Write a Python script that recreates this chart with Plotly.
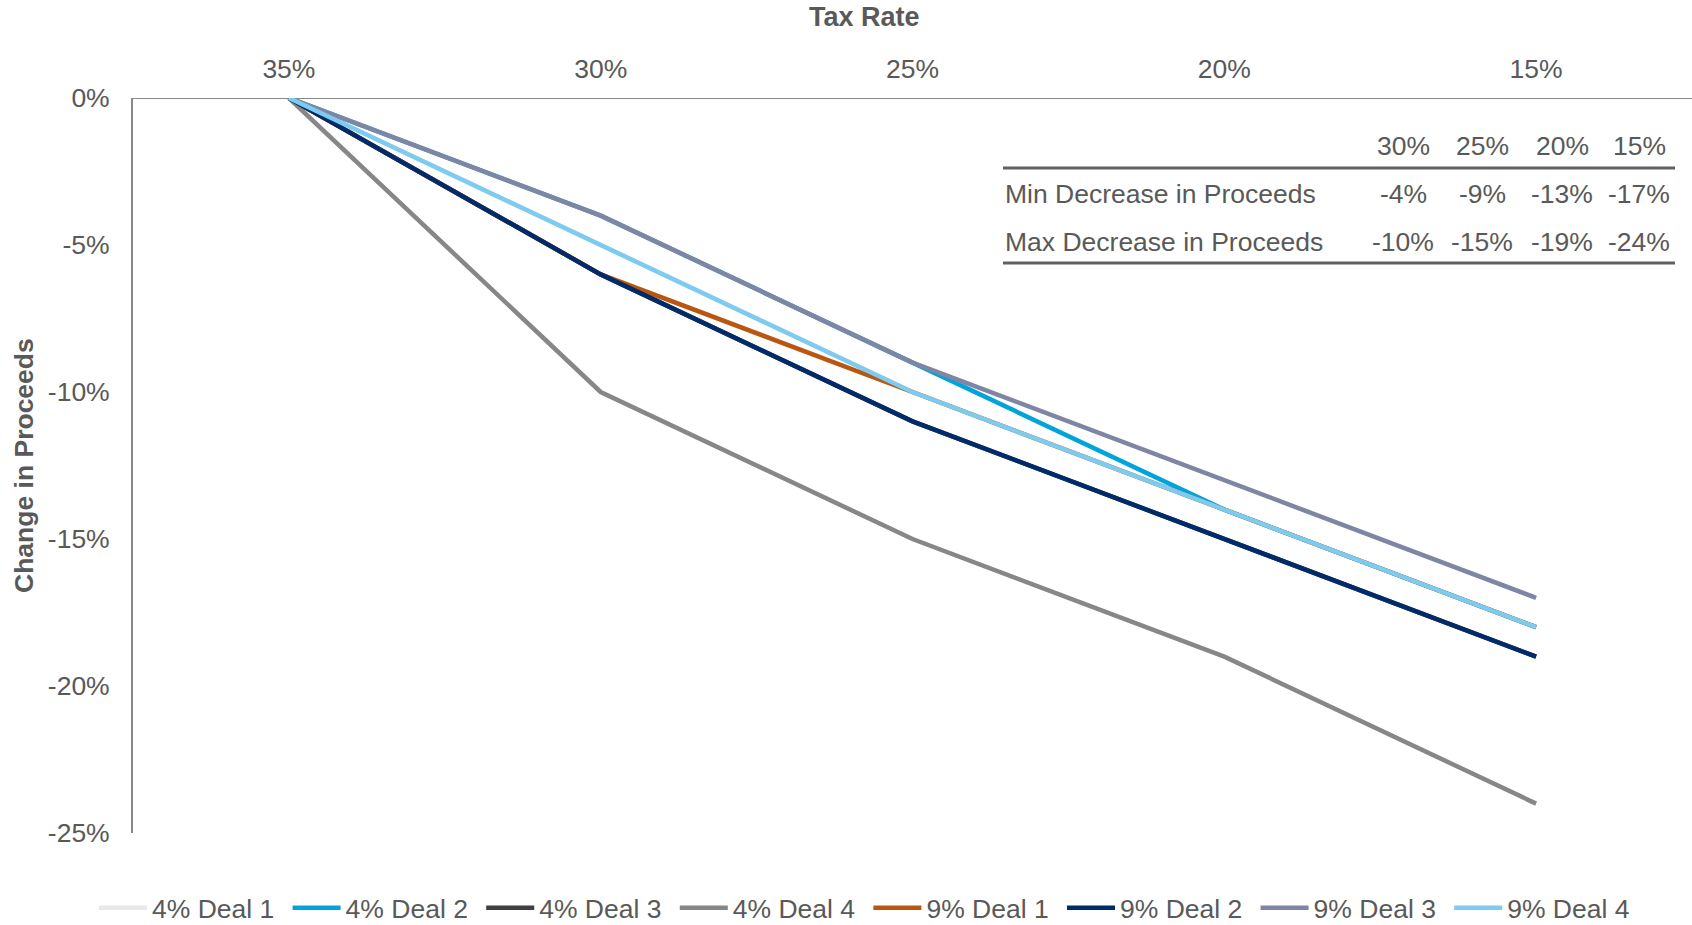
import plotly.graph_objects as go

# Tax rate scenarios (x axis, shown on top)
tax_rates = ["35%", "30%", "25%", "20%", "15%"]

# Change in proceeds (%) for each deal
deal4_1 = [0, -5, -10, -14, -18]
deal4_2 = [0, -4, -9, -14, -18]
deal4_3 = [0, -6, -11, -15, -19]
deal4_4 = [0, -10, -15, -19, -24]
deal9_1 = [0, -6, -10, -14, -18]
deal9_2 = [0, -6, -11, -15, -19]
deal9_3 = [0, -4, -9, -13, -17]
deal9_4 = [0, -5, -10, -14, -18]

series_names = ["4% Deal 1", "4% Deal 2", "4% Deal 3", "4% Deal 4",
                "9% Deal 1", "9% Deal 2", "9% Deal 3", "9% Deal 4"]
series_values = [deal4_1, deal4_2, deal4_3, deal4_4,
                 deal9_1, deal9_2, deal9_3, deal9_4]
series_colors = ["#E8E9EA", "#00A3DA", "#404040", "#878787",
                 "#B9560F", "#002B6B", "#7F86A3", "#7DCBEF"]

# Summary table
table_cols = ["30%", "25%", "20%", "15%"]
table_rows = ["Min Decrease in Proceeds", "Max Decrease in Proceeds"]
min_decrease = [-4, -9, -13, -17]
max_decrease = [-10, -15, -19, -24]

W, H = 1692, 925
L, R, T, B = 133, 0, 98, 92
PW, PH = W - L - R, H - T - B

def px(x):
    return (x - L) / PW

def py(y):
    return (H - B - y) / PH

TEXT = "#595959"
FONT = "Liberation Sans, Arial, sans-serif"
FS = 26.5

fig = go.Figure()
for name, vals, col in zip(series_names, series_values, series_colors):
    fig.add_trace(go.Scatter(
        x=tax_rates, y=vals, name=name, mode="lines",
        line=dict(color=col, width=4.5),
    ))

fig.update_layout(
    width=W, height=H,
    margin=dict(l=L, r=R, t=T, b=B, autoexpand=False),
    paper_bgcolor="white", plot_bgcolor="white",
    font=dict(family=FONT, size=FS, color=TEXT),
    showlegend=True,
    legend=dict(
        orientation="h", xref="container", x=94 / W, xanchor="left",
        yref="container", y=1 - 908 / H, yanchor="middle",
        font=dict(size=FS, color=TEXT), entrywidth=130.6, entrywidthmode="pixels",
        itemwidth=48, tracegroupgap=0, bgcolor="rgba(0,0,0,0)",
    ),
    xaxis=dict(
        type="category", side="top", range=[-0.5, 4.5],
        showgrid=False, zeroline=False, showline=False,
        ticks="", ticklabelstandoff=14, tickfont=dict(size=FS, color=TEXT),
        fixedrange=True,
    ),
    yaxis=dict(
        range=[-25, 0], tickvals=[0, -5, -10, -15, -20, -25],
        ticktext=[f"{v}%" for v in [0, -5, -10, -15, -20, -25]],
        showgrid=False, zeroline=False, showline=True,
        linecolor="#898989", linewidth=2, ticks="",
        ticklabelstandoff=16, tickfont=dict(size=FS, color=TEXT),
        fixedrange=True,
    ),
)

# horizontal axis line at 0%
fig.add_shape(type="line", xref="paper", yref="y", x0=0, x1=1, y0=0, y1=0,
              line=dict(color="#898989", width=2), layer="below")

# axis titles
fig.add_annotation(text="<b>Tax Rate</b>", xref="paper", yref="paper",
                   x=px(864), y=py(17), showarrow=False,
                   font=dict(size=27, color=TEXT), xanchor="center", yanchor="middle")
fig.add_annotation(text="<b>Change in Proceeds</b>", xref="paper", yref="paper",
                   x=px(24), y=py(466), showarrow=False, textangle=-90,
                   font=dict(size=26.5, color=TEXT), xanchor="center", yanchor="middle")

# summary table
col_x = [1403, 1482, 1562, 1639]
for cx, c in zip(col_x, table_cols):
    fig.add_annotation(text=c, xref="paper", yref="paper", x=px(cx), y=py(146),
                       showarrow=False, xanchor="center", yanchor="middle",
                       font=dict(size=FS, color=TEXT))
for ry, label, vals in zip([194, 242], table_rows, [min_decrease, max_decrease]):
    fig.add_annotation(text=label, xref="paper", yref="paper", x=px(1003), y=py(ry),
                       showarrow=False, xanchor="left", yanchor="middle",
                       font=dict(size=FS, color=TEXT))
    for cx, v in zip(col_x, vals):
        fig.add_annotation(text=f"{v}%", xref="paper", yref="paper", x=px(cx), y=py(ry),
                           showarrow=False, xanchor="center", yanchor="middle",
                           font=dict(size=FS, color=TEXT))
for ly in [168, 263]:
    fig.add_shape(type="line", xref="paper", yref="paper",
                  x0=px(1003), x1=px(1675), y0=py(ly), y1=py(ly),
                  line=dict(color="#5F6062", width=3))

fig.write_html("out.html")
